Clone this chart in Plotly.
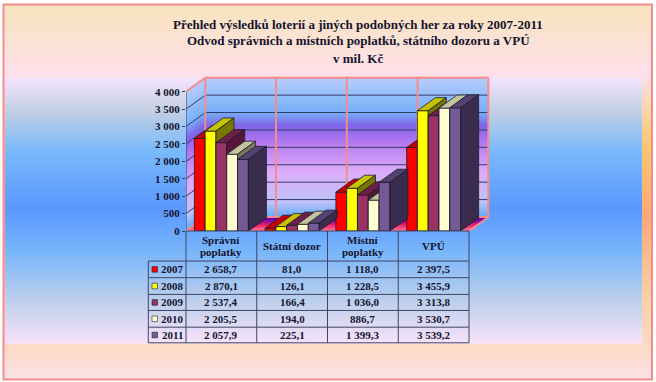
import plotly.graph_objects as go

title_lines = ["Přehled výsledků loterií a jiných podobných her za roky 2007-2011",
               "Odvod správních a místních poplatků, státního dozoru a VPÚ",
               "v mil. Kč"]
categories = ["Správní<br>poplatky", "Státní dozor", "Místní<br>poplatky", "VPÚ"]
years = ["2007", "2008", "2009", "2010", "2011"]
v2007 = [2658.7, 81.0, 1118.0, 2397.5]
v2008 = [2870.1, 126.1, 1228.5, 3455.9]
v2009 = [2537.4, 166.4, 1036.0, 3313.8]
v2010 = [2205.5, 194.0, 886.7, 3530.7]
v2011 = [2057.9, 225.1, 1399.3, 3539.2]
series = [v2007, v2008, v2009, v2010, v2011]
front_colors = [(255, 0, 0), (255, 255, 0), (153, 51, 102), (255, 255, 208), (118, 90, 150)]
top_colors = [(200, 0, 0), (196, 196, 0), (110, 32, 74), (196, 196, 158), (84, 66, 112)]
side_colors = [(120, 0, 0), (120, 120, 0), (86, 24, 56), (120, 120, 96), (58, 44, 76)]
y_ticks = [0, 500, 1000, 1500, 2000, 2500, 3000, 3500, 4000]

W, H = 656, 382
PX0, CATW = 186.0, 70.75
Y0, PXPER = 230.7, 0.03475
PLOT_R, PLOT_T = 495.0, 70.0
XMAX = (PLOT_R - PX0) / CATW
YMAX = (Y0 - PLOT_T) / PXPER
WALL_DX, WALL_DY = 19.3 / CATW, 14.0 / PXPER
BAR_DX, BAR_DY = 18.0 / CATW, 13.0 / PXPER
BAR_W = 10.8 / CATW
INK = "#14142e"
PINK = "#f58c8c"
FONT = "Liberation Serif"


def rgb(c):
    return f"rgb({int(c[0])},{int(c[1])},{int(c[2])})"


def ramp(stops, t):
    for (a, ca), (b, cb) in zip(stops, stops[1:]):
        if t <= b:
            k = 0 if b == a else max(0.0, (t - a) / (b - a))
            return tuple(ca[i] + (cb[i] - ca[i]) * k for i in range(3))
    return stops[-1][1]


# "paper" coordinates are relative to the plot area, which may be exceeded
def fx(px):
    return (px - PX0) / (PLOT_R - PX0)


def fy(py):
    return (Y0 - py) / (Y0 - PLOT_T)


def fmt(v):
    s = f"{v:,.1f}"
    return s.replace(",", " ").replace(".", ",")


shapes = []


def paper_rect(x0, y0, x1, y1, color, layer="below"):
    shapes.append(dict(type="rect", xref="paper", yref="paper", x0=fx(x0), x1=fx(x1),
                       y0=fy(y0), y1=fy(y1), fillcolor=color, line_width=0, layer=layer))


outer = [(4, (250, 228, 190)), (72, (255, 224, 234)), (110, (252, 214, 170)), (145, (250, 198, 112)),
         (215, (250, 170, 120)), (300, (251, 210, 170)), (342, (254, 218, 196)), (379, (252, 226, 232))]
inner = [(77, (244, 228, 252)), (110, (196, 208, 228)), (150, (122, 186, 252)), (208, (92, 152, 255)),
         (250, (120, 182, 252)), (300, (190, 208, 236)), (342, (248, 226, 250))]
for y in range(4, 379, 2):
    paper_rect(3, y, 653, min(y + 3, 379), rgb(ramp(outer, y)))
for y in range(77, 343):
    paper_rect(5, y, 642, min(y + 2, 343), rgb(ramp(inner, y)))

shapes.append(dict(type="rect", xref="paper", yref="paper", x0=fx(3.5), x1=fx(652), y0=fy(4.5), y1=fy(379),
                   line=dict(color=PINK, width=2), layer="below"))

# walls and floor, in data units; every band is painted over the one beneath it
wall = [(0, (100, 170, 250)), (400, (190, 195, 250)), (1300, (222, 172, 250)), (2200, (176, 118, 240)),
        (2600, (128, 100, 232)), (3000, (118, 176, 250)), (4000, (186, 206, 252))]
step = 29
for v in range(0, 4000, step):
    c = rgb(ramp(wall, v))
    v1 = min(v + step + 29, 4000)
    shapes.append(dict(type="path", xref="x", yref="y", layer="below", fillcolor=c, line_width=0,
                       path=f"M0,{v} L{WALL_DX},{v + WALL_DY} L{WALL_DX},{v1 + WALL_DY} L0,{v1} Z"))
    shapes.append(dict(type="rect", xref="x", yref="y", layer="below", fillcolor=c, line_width=0,
                       x0=WALL_DX, x1=4 + WALL_DX, y0=v + WALL_DY, y1=v1 + WALL_DY))
floor = [(0, (255, 120, 155)), (0.35, (240, 40, 110)), (0.65, (150, 10, 150)), (0.9, (90, 0, 170)), (1, (170, 100, 220))]
for k in range(14):
    t0, t1 = k / 14, (k + 1.2) / 14
    shapes.append(dict(type="path", xref="x", yref="y", layer="below", fillcolor=rgb(ramp(floor, t0)), line_width=0,
                       path=f"M{t0 * WALL_DX},{t0 * WALL_DY} L{4 + t0 * WALL_DX},{t0 * WALL_DY} "
                            f"L{4 + min(t1, 1) * WALL_DX},{min(t1, 1) * WALL_DY} L{min(t1, 1) * WALL_DX},{min(t1, 1) * WALL_DY} Z"))

# table lines
TABLE_Y = [230.7, 260.7, 277.3, 294, 310, 326.7, 342.3]
TABLE_X = [PX0 + CATW * i for i in range(5)]
LEG_X = 148.3
LINE = dict(color="#3c4664", width=1)
for i, y in enumerate(TABLE_Y):
    shapes.append(dict(type="line", xref="paper", yref="paper", x0=fx(PX0 if i == 0 else LEG_X), x1=fx(TABLE_X[-1]),
                       y0=fy(y), y1=fy(y), line=LINE, layer="above"))
for x in TABLE_X:
    shapes.append(dict(type="line", xref="paper", yref="paper", x0=fx(x), x1=fx(x), y0=fy(TABLE_Y[0]), y1=fy(TABLE_Y[-1]),
                       line=LINE, layer="above"))
shapes.append(dict(type="line", xref="paper", yref="paper", x0=fx(LEG_X), x1=fx(LEG_X), y0=fy(TABLE_Y[1]), y1=fy(TABLE_Y[-1]),
                   line=LINE, layer="above"))

annotations = []


def text(px, py, s, size=11):
    annotations.append(dict(xref="paper", yref="paper", x=fx(px), y=fy(py), text=f"<b>{s}</b>", showarrow=False,
                            xanchor="center", yanchor="middle", align="center",
                            font=dict(family=FONT, size=size, color=INK)))


for s, py in zip(title_lines, [24.7, 40.7, 59]):
    text(358, py, s, 13)
for i, c in enumerate(categories):
    parts = c.split("<br>")
    cy = (TABLE_Y[0] + TABLE_Y[1]) / 2
    for n, part in enumerate(parts):
        text(PX0 + CATW * (i + 0.5), cy + (n - (len(parts) - 1) / 2) * 12.5, part)
for j, yr in enumerate(years):
    cy = (TABLE_Y[j + 1] + TABLE_Y[j + 2]) / 2
    text(172, cy, yr)
    shapes.append(dict(type="rect", xref="paper", yref="paper", x0=fx(152), x1=fx(157.5), y0=fy(cy - 2.8), y1=fy(cy + 2.8),
                       fillcolor=rgb(front_colors[j]), line=dict(color="#222233", width=0.6), layer="above"))
    for i in range(4):
        text(PX0 + CATW * (i + 0.5), cy, fmt(series[j][i]))

fig = go.Figure()

# grid and wall frame on the base axes
gx, gy = [], []
for v in y_ticks[1:-1]:
    gx += [0, WALL_DX, 4 + WALL_DX, None]
    gy += [v, v + WALL_DY, v + WALL_DY, None]
fig.add_trace(go.Scatter(x=gx, y=gy, mode="lines", line=dict(color="#323c64", width=1), hoverinfo="skip"))
gx, gy = [0, 0, None], [0, y_ticks[-1], None]
fig.add_trace(go.Scatter(x=gx, y=gy, mode="lines", line=dict(color="#323c64", width=1), hoverinfo="skip"))
fx_, fy_ = [], []
top = y_ticks[-1]
for i in range(1, 5):
    fx_ += [i + WALL_DX, i + WALL_DX, None]
    fy_ += [WALL_DY, top + WALL_DY, None]
fx_ += [0, WALL_DX, 4 + WALL_DX, None, WALL_DX, WALL_DX, None, 0, WALL_DX, 4 + WALL_DX, None, 4, 4 + WALL_DX]
fy_ += [top, top + WALL_DY, top + WALL_DY, None, WALL_DY, top + WALL_DY, None, 0, WALL_DY, WALL_DY, None, 0, WALL_DY]
fig.add_trace(go.Scatter(x=fx_, y=fy_, mode="lines", line=dict(color=PINK, width=2), hoverinfo="skip"))

# each series on its own overlay so that later bars hide earlier sides
EDGE = "#1c1c30"
for j, vals in enumerate(series):
    xa, ya = "x" + str(j + 2), "y" + str(j + 2)
    xs = [i + 0.5 + (j - 2) * BAR_W for i in range(4)]
    fig.add_trace(go.Bar(x=xs, y=vals, width=BAR_W, name=years[j], xaxis=xa, yaxis=ya,
                         marker=dict(color=rgb(front_colors[j]), line=dict(color=EDGE, width=0.8)), hoverinfo="skip"))
    tx, ty, sx, sy = [], [], [], []
    for x, v in zip(xs, vals):
        l, r = x - BAR_W / 2, x + BAR_W / 2
        tx += [l, r, r + BAR_DX, l + BAR_DX, l, None]
        ty += [v, v, v + BAR_DY, v + BAR_DY, v, None]
        sx += [r, r + BAR_DX, r + BAR_DX, r, r, None]
        sy += [0, BAR_DY, v + BAR_DY, v, 0, None]
    for px_, py_, c in ((tx, ty, top_colors[j]), (sx, sy, side_colors[j])):
        fig.add_trace(go.Scatter(x=px_, y=py_, mode="lines", fill="toself", fillcolor=rgb(c), xaxis=xa, yaxis=ya,
                                 line=dict(color=EDGE, width=0.8), hoverinfo="skip"))

layout = dict(
    width=W, height=H, margin=dict(l=PX0, r=W - PLOT_R, t=PLOT_T, b=H - Y0, autoexpand=False),
    paper_bgcolor="white", plot_bgcolor="rgba(0,0,0,0)", showlegend=False, barmode="overlay",
    shapes=shapes, annotations=annotations,
    xaxis=dict(range=[0, XMAX], visible=False, fixedrange=True),
    yaxis=dict(range=[0, YMAX], tickmode="array", tickvals=y_ticks, ticktext=[f"{v:,}".replace(",", " ") for v in y_ticks],
               ticks="outside", ticklen=3, tickcolor="#323c64", showgrid=False, zeroline=False, showline=False,
               tickfont=dict(family=FONT, size=11, color=INK, weight="bold"), fixedrange=True),
)
for n in range(2, 7):
    layout[f"xaxis{n}"] = dict(range=[0, XMAX], visible=False, overlaying="x", anchor=f"y{n}", fixedrange=True)
    layout[f"yaxis{n}"] = dict(range=[0, YMAX], visible=False, overlaying="y", anchor=f"x{n}", fixedrange=True)
fig.update_layout(**layout)
fig.write_html("out.html", config=dict(displayModeBar=False),
               post_script="document.body.style.margin='0';document.documentElement.style.overflow='hidden';")
